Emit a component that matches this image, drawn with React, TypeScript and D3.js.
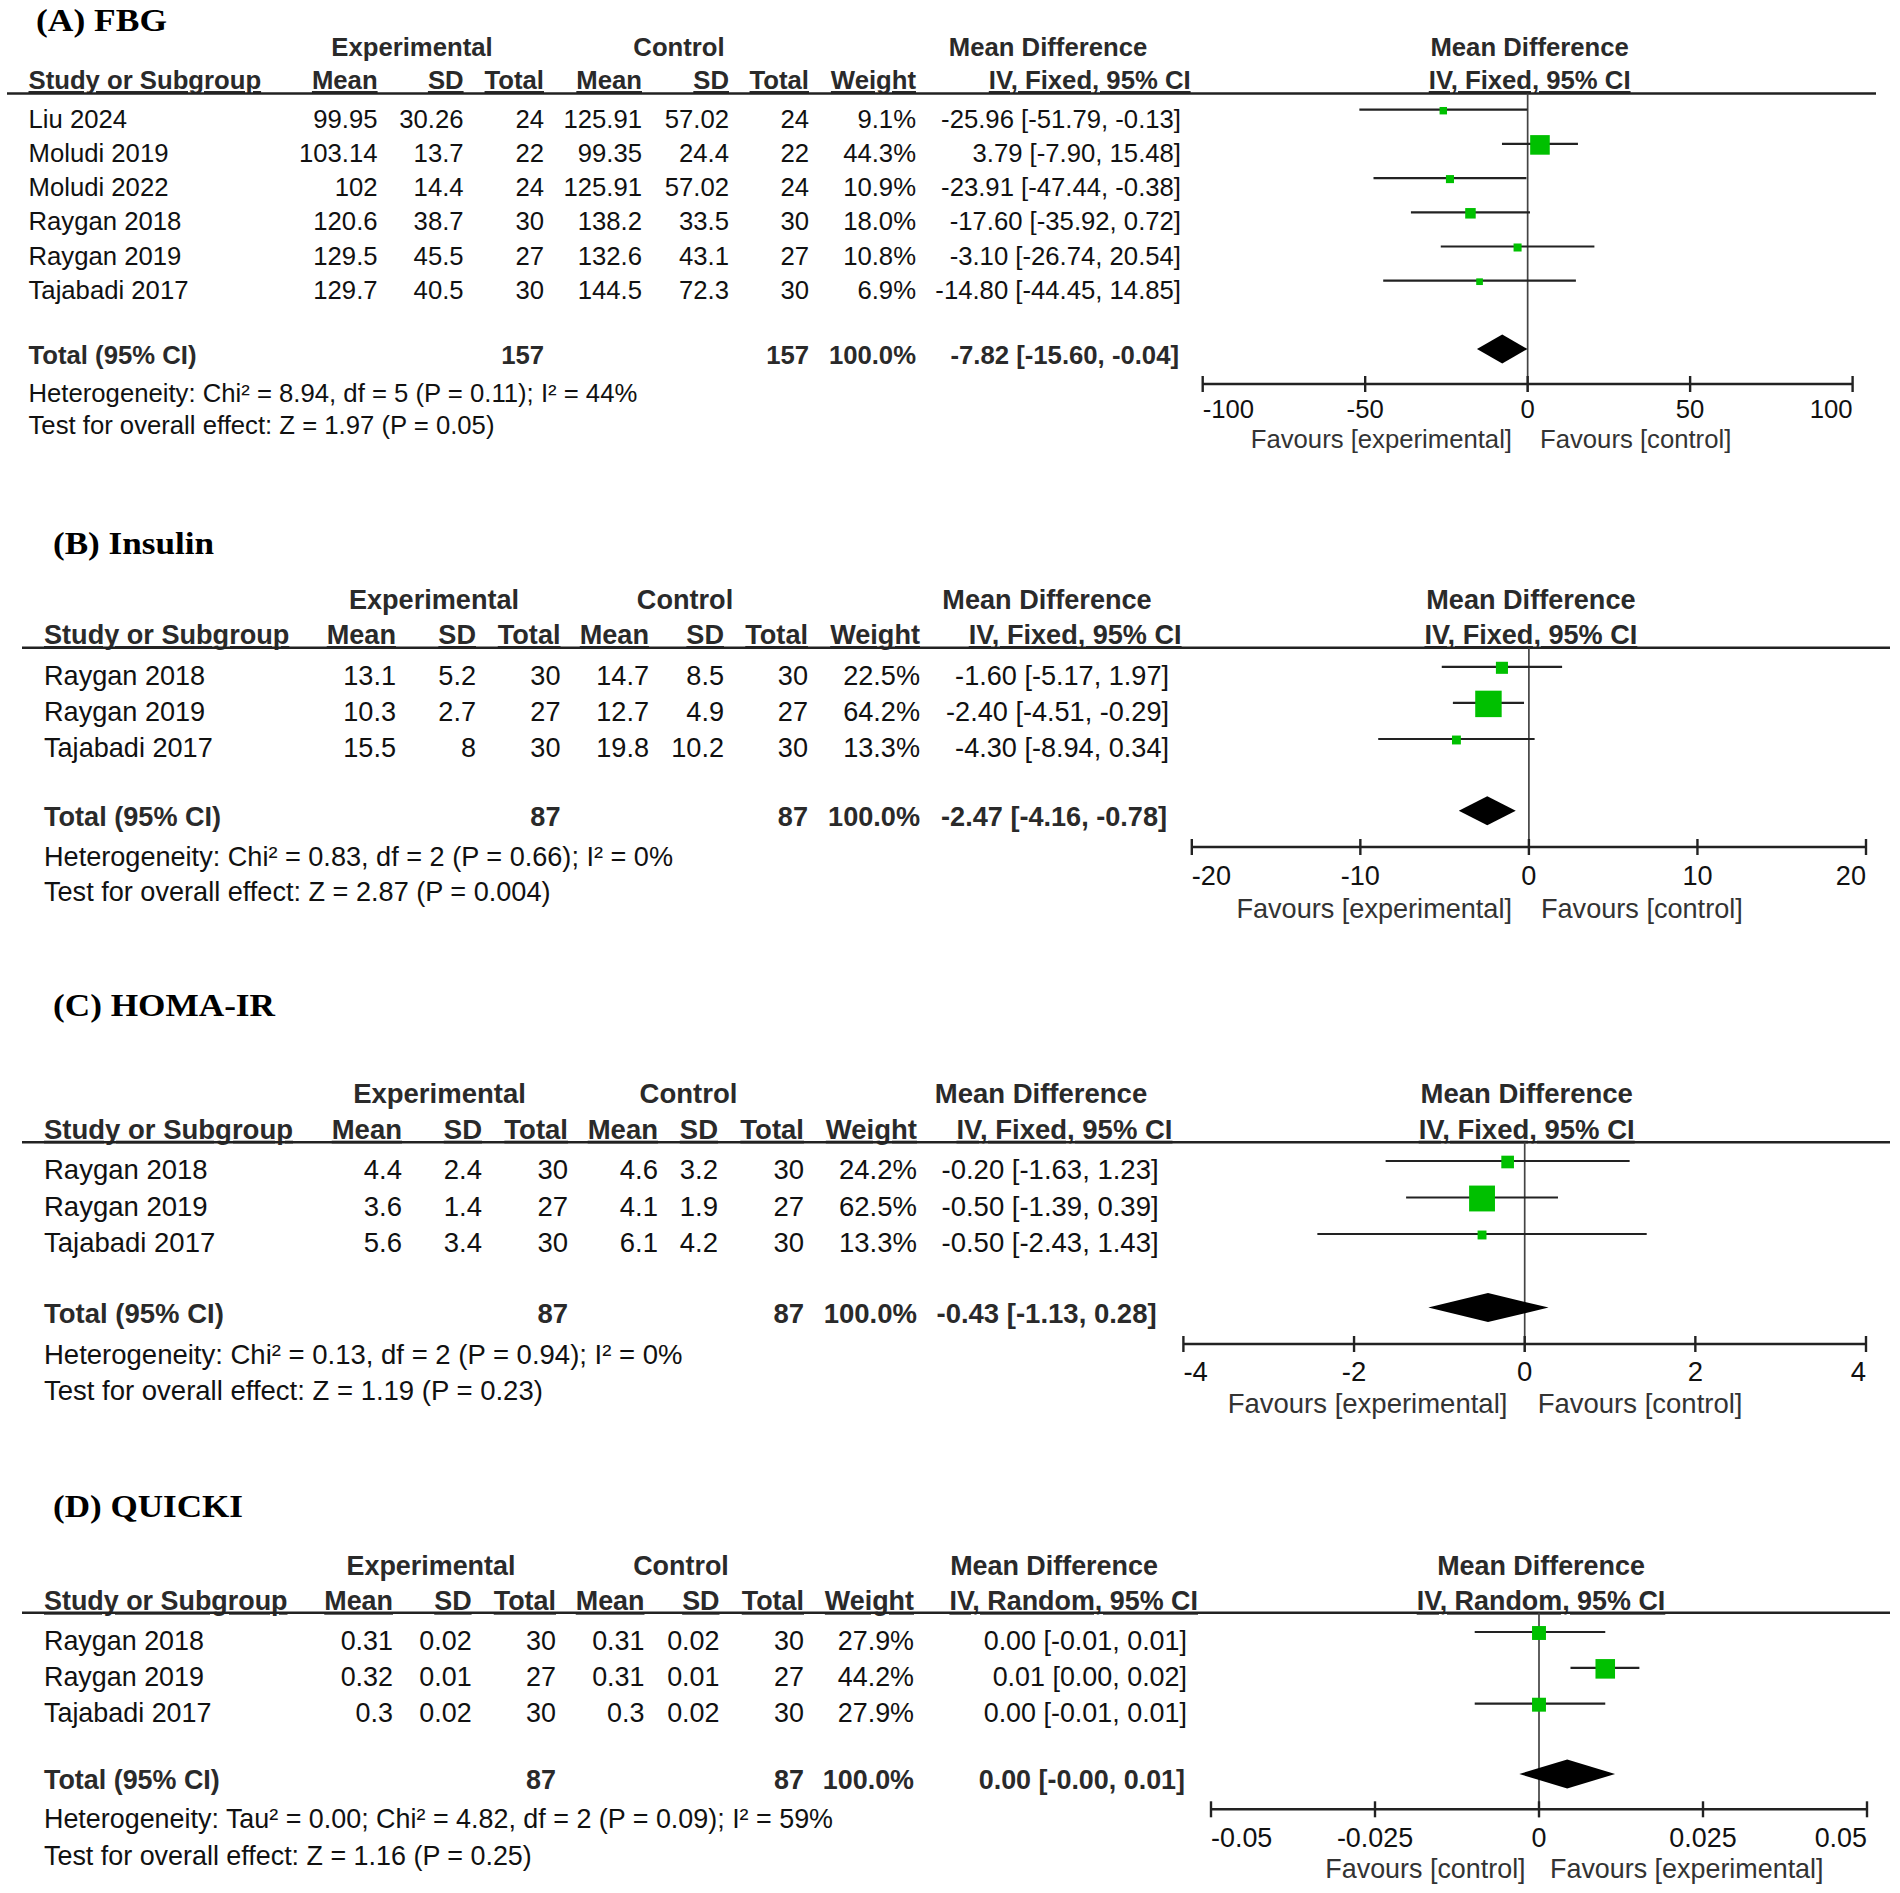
import React from 'react';
import * as d3 from 'd3';

// (A) FBG
const fbgStudies = ['Liu 2024', 'Moludi 2019', 'Moludi 2022', 'Raygan 2018', 'Raygan 2019', 'Tajabadi 2017'];
const fbgExpMean = [99.95, 103.14, 102, 120.6, 129.5, 129.7];
const fbgExpSD = [30.26, 13.7, 14.4, 38.7, 45.5, 40.5];
const fbgExpN = [24, 22, 24, 30, 27, 30];
const fbgCtlMean = [125.91, 99.35, 125.91, 138.2, 132.6, 144.5];
const fbgCtlSD = [57.02, 24.4, 57.02, 33.5, 43.1, 72.3];
const fbgCtlN = [24, 22, 24, 30, 27, 30];
const fbgWeight = [9.1, 44.3, 10.9, 18.0, 10.8, 6.9];
const fbgMD = [-25.96, 3.79, -23.91, -17.6, -3.1, -14.8];
const fbgLo = [-51.79, -7.9, -47.44, -35.92, -26.74, -44.45];
const fbgHi = [-0.13, 15.48, -0.38, 0.72, 20.54, 14.85];
const fbgTotal = [-7.82, -15.6, -0.04];
const fbgTicks = [-100, -50, 0, 50, 100];
const fbgStats = [
  'Heterogeneity: Chi² = 8.94, df = 5 (P = 0.11); I² = 44%',
  'Test for overall effect: Z = 1.97 (P = 0.05)',
];

// (B) Insulin
const insStudies = ['Raygan 2018', 'Raygan 2019', 'Tajabadi 2017'];
const insExpMean = [13.1, 10.3, 15.5];
const insExpSD = [5.2, 2.7, 8];
const insExpN = [30, 27, 30];
const insCtlMean = [14.7, 12.7, 19.8];
const insCtlSD = [8.5, 4.9, 10.2];
const insCtlN = [30, 27, 30];
const insWeight = [22.5, 64.2, 13.3];
const insMD = [-1.6, -2.4, -4.3];
const insLo = [-5.17, -4.51, -8.94];
const insHi = [1.97, -0.29, 0.34];
const insTotal = [-2.47, -4.16, -0.78];
const insTicks = [-20, -10, 0, 10, 20];
const insStats = [
  'Heterogeneity: Chi² = 0.83, df = 2 (P = 0.66); I² = 0%',
  'Test for overall effect: Z = 2.87 (P = 0.004)',
];

// (C) HOMA-IR
const homaStudies = ['Raygan 2018', 'Raygan 2019', 'Tajabadi 2017'];
const homaExpMean = [4.4, 3.6, 5.6];
const homaExpSD = [2.4, 1.4, 3.4];
const homaExpN = [30, 27, 30];
const homaCtlMean = [4.6, 4.1, 6.1];
const homaCtlSD = [3.2, 1.9, 4.2];
const homaCtlN = [30, 27, 30];
const homaWeight = [24.2, 62.5, 13.3];
const homaMD = [-0.2, -0.5, -0.5];
const homaLo = [-1.63, -1.39, -2.43];
const homaHi = [1.23, 0.39, 1.43];
const homaTotal = [-0.43, -1.13, 0.28];
const homaTicks = [-4, -2, 0, 2, 4];
const homaStats = [
  'Heterogeneity: Chi² = 0.13, df = 2 (P = 0.94); I² = 0%',
  'Test for overall effect: Z = 1.19 (P = 0.23)',
];

// (D) QUICKI
const qStudies = ['Raygan 2018', 'Raygan 2019', 'Tajabadi 2017'];
const qExpMean = [0.31, 0.32, 0.3];
const qExpSD = [0.02, 0.01, 0.02];
const qExpN = [30, 27, 30];
const qCtlMean = [0.31, 0.31, 0.3];
const qCtlSD = [0.02, 0.01, 0.02];
const qCtlN = [30, 27, 30];
const qWeight = [27.9, 44.2, 27.9];
const qMD = [0.0, 0.0101, 0.0];
const qLo = [-0.0098, 0.0048, -0.0098];
const qHi = [0.0101, 0.0153, 0.0101];
const qTotal = [0.0043, -0.003, 0.0116];
const qTicks = [-0.05, -0.025, 0, 0.025, 0.05];
const qStats = [
  'Heterogeneity: Tau² = 0.00; Chi² = 4.82, df = 2 (P = 0.09); I² = 59%',
  'Test for overall effect: Z = 1.16 (P = 0.25)',
];

const panels = [
  {
    title: '(A) FBG', method: 'IV, Fixed, 95% CI', studies: fbgStudies,
    cells: [fbgExpMean, fbgExpSD, fbgExpN, fbgCtlMean, fbgCtlSD, fbgCtlN],
    expN: fbgExpN, ctlN: fbgCtlN, weight: fbgWeight, md: fbgMD, lo: fbgLo, hi: fbgHi,
    total: fbgTotal, ticks: fbgTicks, stats: fbgStats,
    favours: ['Favours [experimental]', 'Favours [control]'],
  },
  {
    title: '(B) Insulin', method: 'IV, Fixed, 95% CI', studies: insStudies,
    cells: [insExpMean, insExpSD, insExpN, insCtlMean, insCtlSD, insCtlN],
    expN: insExpN, ctlN: insCtlN, weight: insWeight, md: insMD, lo: insLo, hi: insHi,
    total: insTotal, ticks: insTicks, stats: insStats,
    favours: ['Favours [experimental]', 'Favours [control]'],
  },
  {
    title: '(C) HOMA-IR', method: 'IV, Fixed, 95% CI', studies: homaStudies,
    cells: [homaExpMean, homaExpSD, homaExpN, homaCtlMean, homaCtlSD, homaCtlN],
    expN: homaExpN, ctlN: homaCtlN, weight: homaWeight, md: homaMD, lo: homaLo, hi: homaHi,
    total: homaTotal, ticks: homaTicks, stats: homaStats,
    favours: ['Favours [experimental]', 'Favours [control]'],
  },
  {
    title: '(D) QUICKI', method: 'IV, Random, 95% CI', studies: qStudies,
    cells: [qExpMean, qExpSD, qExpN, qCtlMean, qCtlSD, qCtlN],
    expN: qExpN, ctlN: qCtlN, weight: qWeight, md: qMD, lo: qLo, hi: qHi,
    total: qTotal, ticks: qTicks, stats: qStats,
    favours: ['Favours [control]', 'Favours [experimental]'],
  },
];

// each panel was pasted in separately, so positions differ a little
const layouts = [
  {
    titleX: 36, titleY: 31, titleW: 131, fs: 25.7,
    hdr1Y: 56, hdr2Y: 89, lineY: 93.5, lineX0: 7, lineX1: 1876, studyX: 28.5,
    cols: [377.6, 463.6, 544, 642, 729, 809, 916], ciRight: 1181, ivRight: 1190.6, mdCenter: 1048,
    expCenter: 412, ctlCenter: 679,
    rowY0: 127.7, rowStep: 34.2, totalY: 364, hetY: 401.7, testY: 434,
    axisX0: 1202.7, axisX1: 1852.6, axisY: 384, tickY: 418, favY: 448, favL: 1512, favR: 1540,
  },
  {
    titleX: 53, titleY: 554, titleW: 161, fs: 27.1,
    hdr1Y: 609, hdr2Y: 644, lineY: 647.7, lineX0: 22, lineX1: 1890, studyX: 44,
    cols: [396, 476, 560.5, 649, 724, 808, 920], ciRight: 1169, ivRight: 1181.6, mdCenter: 1047,
    expCenter: 434, ctlCenter: 685,
    rowY0: 684.8, rowStep: 36.1, totalY: 825.8, hetY: 866, testY: 901,
    axisX0: 1191.8, axisX1: 1866, axisY: 847, tickY: 884.5, favY: 918, favL: 1512, favR: 1541,
  },
  {
    titleX: 53, titleY: 1015.5, titleW: 222, fs: 27.5,
    hdr1Y: 1102.7, hdr2Y: 1138.7, lineY: 1142.3, lineX0: 22, lineX1: 1890, studyX: 44,
    cols: [402, 482, 568, 658, 718, 804, 917], ciRight: 1158.6, ivRight: 1172.5, mdCenter: 1041,
    expCenter: 439.5, ctlCenter: 688.5,
    rowY0: 1179, rowStep: 36.5, totalY: 1322.6, hetY: 1363.5, testY: 1399.7,
    axisX0: 1183.4, axisX1: 1866, axisY: 1344, tickY: 1381, favY: 1413, favL: 1507.4, favR: 1537.7,
  },
  {
    titleX: 53, titleY: 1516.7, titleW: 190, fs: 26.9,
    hdr1Y: 1575, hdr2Y: 1610, lineY: 1612.7, lineX0: 22, lineX1: 1890, studyX: 44,
    cols: [393, 471.6, 556, 644.5, 719.5, 804, 914], ciRight: 1187, ivRight: 1198, mdCenter: 1054,
    expCenter: 431, ctlCenter: 681,
    rowY0: 1650, rowStep: 35.85, totalY: 1789, hetY: 1828, testY: 1865,
    axisX0: 1211, axisX1: 1867, axisY: 1809.3, tickY: 1846.7, favY: 1878, favL: 1525.6, favR: 1550,
  },
];

const SANS = 'Liberation Sans, Arial, Helvetica, sans-serif';
const SERIF = 'Liberation Serif, Times New Roman, serif';
const HEAD = '#2a2a2a';
const INK = '#111';
const GREEN = '#00c000';
const colHeads = ['Mean', 'SD', 'Total', 'Mean', 'SD', 'Total', 'Weight'];

// box side grows with weight
const boxSide = d3.scaleLinear().domain([0, 100]).range([4.3, 38.8]);

const fmtCI = (m: number, l: number, h: number) =>
  `${m.toFixed(2)} [${l.toFixed(2)}, ${h.toFixed(2)}]`;

function ForestPanel({ p, L }: { p: any; L: any }) {
  const ticks: number[] = p.ticks;
  const x = d3.scaleLinear()
    .domain([ticks[0], ticks[ticks.length - 1]])
    .range([L.axisX0, L.axisX1]);
  const x0 = x(0);
  const rowY = (i: number) => L.rowY0 + i * L.rowStep;
  const fs = L.fs;
  const under = { textDecoration: 'underline' };

  const diamond = d3.line<[number, number]>()([
    [x(p.total[1]), L.totalY - 15],
    [x(p.total[0]), L.totalY - 15 - 14.5],
    [x(p.total[2]), L.totalY - 15],
    [x(p.total[0]), L.totalY - 15 + 14.5],
  ]) + 'Z';

  return (
    <g>
      <text x={L.titleX} y={L.titleY} fontFamily={SERIF} fontWeight="bold" fontSize={32}
        textLength={L.titleW} lengthAdjust="spacingAndGlyphs" fill="#000">{p.title}</text>

      {/* header */}
      <g fontFamily={SANS} fontWeight="bold" fontSize={fs} fill={HEAD}>
        <text x={L.expCenter} y={L.hdr1Y} textAnchor="middle">Experimental</text>
        <text x={L.ctlCenter} y={L.hdr1Y} textAnchor="middle">Control</text>
        <text x={L.mdCenter} y={L.hdr1Y} textAnchor="middle">Mean Difference</text>
        <text x={x0 + 2} y={L.hdr1Y} textAnchor="middle">Mean Difference</text>
        <text x={L.studyX} y={L.hdr2Y} style={under}>Study or Subgroup</text>
        {colHeads.map((h, j) => (
          <text key={j} x={L.cols[j]} y={L.hdr2Y} textAnchor="end" style={under}>{h}</text>
        ))}
        <text x={L.ivRight} y={L.hdr2Y} textAnchor="end" style={under}>{p.method}</text>
        <text x={x0 + 2} y={L.hdr2Y} textAnchor="middle" style={under}>{p.method}</text>
      </g>
      <line x1={L.lineX0} x2={L.lineX1} y1={L.lineY} y2={L.lineY} stroke="#222" strokeWidth={2.6} />

      {/* study rows */}
      <g fontFamily={SANS} fontSize={fs} fill={INK}>
        {p.studies.map((s: string, i: number) => (
          <g key={s}>
            <text x={L.studyX} y={rowY(i)}>{s}</text>
            {p.cells.map((arr: number[], j: number) => (
              <text key={j} x={L.cols[j]} y={rowY(i)} textAnchor="end">{String(arr[i])}</text>
            ))}
            <text x={L.cols[6]} y={rowY(i)} textAnchor="end">{p.weight[i].toFixed(1) + '%'}</text>
            <text x={L.ciRight} y={rowY(i)} textAnchor="end">{fmtCI(p.md[i], p.lo[i], p.hi[i])}</text>
          </g>
        ))}
      </g>

      {/* total row */}
      <g fontFamily={SANS} fontWeight="bold" fontSize={fs} fill={HEAD}>
        <text x={L.studyX} y={L.totalY}>Total (95% CI)</text>
        <text x={L.cols[2]} y={L.totalY} textAnchor="end">{d3.sum(p.expN)}</text>
        <text x={L.cols[5]} y={L.totalY} textAnchor="end">{d3.sum(p.ctlN)}</text>
        <text x={L.cols[6]} y={L.totalY} textAnchor="end">{d3.sum(p.weight as number[]).toFixed(1) + '%'}</text>
        <text x={L.ciRight - 2} y={L.totalY} textAnchor="end">{fmtCI(p.total[0], p.total[1], p.total[2])}</text>
      </g>
      <g fontFamily={SANS} fontSize={fs} fill={INK}>
        <text x={L.studyX} y={L.hetY}>{p.stats[0]}</text>
        <text x={L.studyX} y={L.testY}>{p.stats[1]}</text>
      </g>

      {/* forest plot */}
      <line x1={x0} x2={x0} y1={L.lineY} y2={L.axisY + 8} stroke="#444" strokeWidth={1.7} />
      {p.studies.map((s: string, i: number) => {
        const cy = rowY(i) - 18;
        const side = boxSide(p.weight[i]);
        return (
          <g key={s}>
            <line x1={x(p.lo[i])} x2={x(p.hi[i])} y1={cy} y2={cy} stroke="#222" strokeWidth={2.2} />
            <rect x={x(p.md[i]) - side / 2} y={cy - side / 2 + 1} width={side} height={side} fill={GREEN} />
          </g>
        );
      })}
      <path d={diamond} fill="#000" />

      <line x1={L.axisX0} x2={L.axisX1} y1={L.axisY} y2={L.axisY} stroke="#222" strokeWidth={2.4} />
      <g fontFamily={SANS} fontSize={fs} fill={INK}>
        {ticks.map((t, k) => (
          <g key={k}>
            <line x1={x(t)} x2={x(t)} y1={L.axisY - 8} y2={L.axisY + 8} stroke="#222" strokeWidth={2.4} />
            <text x={x(t)} y={L.tickY}
              textAnchor={k === 0 ? 'start' : k === ticks.length - 1 ? 'end' : 'middle'}>{String(t)}</text>
          </g>
        ))}
        <text x={L.favL} y={L.favY} textAnchor="end" fill="#333">{p.favours[0]}</text>
        <text x={L.favR} y={L.favY} fill="#333">{p.favours[1]}</text>
      </g>
    </g>
  );
}

export default function App() {
  return (
    <svg width={1900} height={1893} viewBox="0 0 1900 1893"
      style={{ position: 'absolute', left: 0, top: 0, background: '#fff' }}>
      <rect width={1900} height={1893} fill="#fff" />
      {panels.map((p, i) => (
        <ForestPanel key={p.title} p={p} L={layouts[i]} />
      ))}
    </svg>
  );
}
